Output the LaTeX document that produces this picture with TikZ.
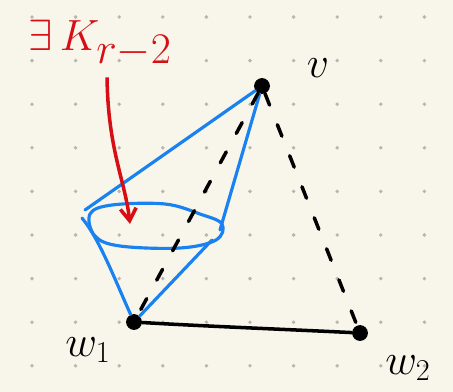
\documentclass[tikz,border=0pt]{standalone}
\usetikzlibrary{arrows.meta,positioning}
\definecolor{paper}{HTML}{F8F6EB}
\definecolor{griddot}{HTML}{B8B6AE}
\definecolor{inkblue}{HTML}{1A82F0}
\definecolor{inkred}{HTML}{D80E14}
\tikzset{
    vertex/.style={circle,fill=black,inner sep=0pt,minimum size=9pt},
    vlabel/.style={font=\fontsize{26}{30}\selectfont},
    edgeline/.style={line width=2pt,line cap=round,black},
    nonedge/.style={line width=2pt,line cap=round,black,dash pattern=on 7pt off 12pt},
    cliqueline/.style={line width=1.8pt,line cap=round,line join=round,inkblue},
    pointer/.style={line width=2pt,inkred,-{Straight Barb[length=7pt,width=9pt]}}
}
\begin{document}
\begin{tikzpicture}[x=0.02cm,y=-0.02cm]
    \fill[paper] (0,0) rectangle (453,392);
    \useasboundingbox (0,0) rectangle (453,392);
    % dot grid
    \foreach \gx in {32,75.6,...,430}{
        \foreach \gy in {17,60.6,...,380}{
            \fill[griddot] (\gx,\gy) circle (1.1pt);
        }
    }
    % vertices
    \node[vertex] (v) at (262,86) {};
    \node[vertex] (w1) at (134,322) {};
    \node[vertex] (w2) at (360,333) {};
    \node[vlabel] (vl) at (318,68) {$v$};
    \node[vlabel] (w1l) at (88,350) {$w_1$};
    \node[vlabel] (w2l) at (408,368) {$w_2$};
    % clique K_{r-2}
    \draw[cliqueline] plot[smooth cycle,tension=0.6] coordinates {(90,214) (112,205) (165,204) (200,214) (222,224) (216,240) (180,248) (120,246) (95,236)};
    \coordinate (ktl) at (85,210);
    \coordinate (ktr) at (220,230);
    \coordinate (kbl) at (82,218);
    \coordinate (kbr) at (212,240);
    \draw[cliqueline] (v) -- (ktl);
    \draw[cliqueline] (v) -- (ktr);
    \draw[cliqueline] (w1) .. controls (115,280) and (100,240) .. (kbl);
    \draw[cliqueline] (w1) -- (kbr);
    % edges
    \draw[nonedge] (v) -- (w1);
    \draw[nonedge] (v) -- (w2);
    \draw[edgeline] (w1) .. controls (200,326) and (300,330) .. (w2);
    % label and pointer
    \node[inkred,font=\fontsize{40}{46}\selectfont] (klabel) at (100,44) {$\exists\,K_{r-2}$};
    \coordinate (kin) at (130,224);
    \draw[pointer] ([xshift=4pt,yshift=-2pt]klabel.south) .. controls (108,150) and (125,180) .. (kin);
\end{tikzpicture}
\end{document}
